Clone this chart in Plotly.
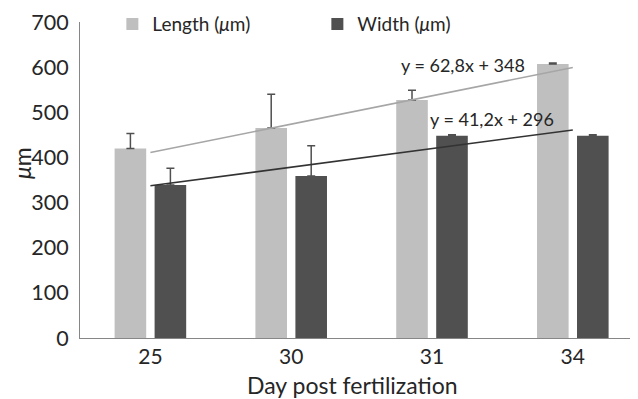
import plotly.graph_objects as go

days = ["25", "30", "31", "34"]
length_um = [420, 465, 527, 607]
length_err = [33, 75, 22, 2]
width_um = [339, 359, 448, 448]
width_err = [37, 67, 2, 2]

length_slope, length_intercept = 62.8, 348
width_slope, width_intercept = 41.2, 296

x_title = "Day post fertilization"
y_title = "<i>μ</i>m"

FONT = "Lato"
TXT = "#262626"

def trend(slope, intercept):
    return [slope * (i + 1) + intercept for i in range(len(days))]

fig = go.Figure()
fig.add_trace(go.Bar(
    x=days, y=length_um, name="Length (<i>μ</i>m)",
    marker=dict(color="#BFBFBF", line=dict(width=0)),
    error_y=dict(type="data", array=length_err, arrayminus=[0] * 4, symmetric=False,
                 color="#505050", thickness=1.5, width=4),
))
fig.add_trace(go.Bar(
    x=days, y=width_um, name="Width (<i>μ</i>m)",
    marker=dict(color="#505050", line=dict(width=0)),
    error_y=dict(type="data", array=width_err, arrayminus=[0] * 4, symmetric=False,
                 color="#505050", thickness=1.5, width=4),
))
fig.add_trace(go.Scatter(
    x=days, y=trend(length_slope, length_intercept), mode="lines",
    line=dict(color="#A6A6A6", width=1.6), showlegend=False, hoverinfo="skip",
))
fig.add_trace(go.Scatter(
    x=days, y=trend(width_slope, width_intercept), mode="lines",
    line=dict(color="#333333", width=1.6), showlegend=False, hoverinfo="skip",
))

fig.add_annotation(x=2.217, y=605, xref="x", yref="y", showarrow=False,
                   text=f"y = {str(length_slope).replace('.', ',')}x + {length_intercept}",
                   font=dict(family=FONT, size=18, color=TXT), xanchor="center", yanchor="middle")
fig.add_annotation(x=2.423, y=485, xref="x", yref="y", showarrow=False,
                   text=f"y = {str(width_slope).replace('.', ',')}x + {width_intercept}",
                   font=dict(family=FONT, size=18, color=TXT), xanchor="center", yanchor="middle")

# axis titles (placed as annotations so they can sit close to the page edges)
fig.add_annotation(x=0.4875, y=0, xref="paper", yref="paper", yshift=-47, showarrow=False,
                   text=x_title, font=dict(family=FONT, size=23, color=TXT),
                   xanchor="center", yanchor="middle")
fig.add_annotation(x=0, y=0.554, xref="paper", yref="paper", xshift=-58, showarrow=False,
                   text=y_title, textangle=-90, font=dict(family=FONT, size=23, color=TXT),
                   xanchor="center", yanchor="middle")

# the page body has an 8px margin, so the figure is 8px smaller on each axis
fig.update_layout(
    width=630, height=391,
    margin=dict(l=72, r=0, t=14, b=61, autoexpand=False),
    paper_bgcolor="white", plot_bgcolor="white",
    font=dict(family=FONT, size=21, color=TXT),
    barmode="group", bargap=0.432, bargroupgap=0.21,
    showlegend=True,
    legend=dict(orientation="h", x=0.058, y=0.993, xanchor="left", yanchor="middle",
                entrywidth=160, entrywidthmode="pixels", bgcolor="rgba(0,0,0,0)",
                font=dict(family=FONT, size=19, color=TXT), traceorder="normal"),
    xaxis=dict(type="category", range=[-0.5, 3.463], showgrid=False, zeroline=False,
               showline=True, linecolor="#868686", linewidth=1, ticks="", automargin=False,
               tickfont=dict(size=21)),
    yaxis=dict(range=[0, 700], dtick=100, showgrid=False, zeroline=False,
               showline=True, linecolor="#868686", linewidth=1, ticks="", automargin=False,
               tickfont=dict(size=21.5), ticklabelstandoff=6),
)

fig.write_html("out.html")
